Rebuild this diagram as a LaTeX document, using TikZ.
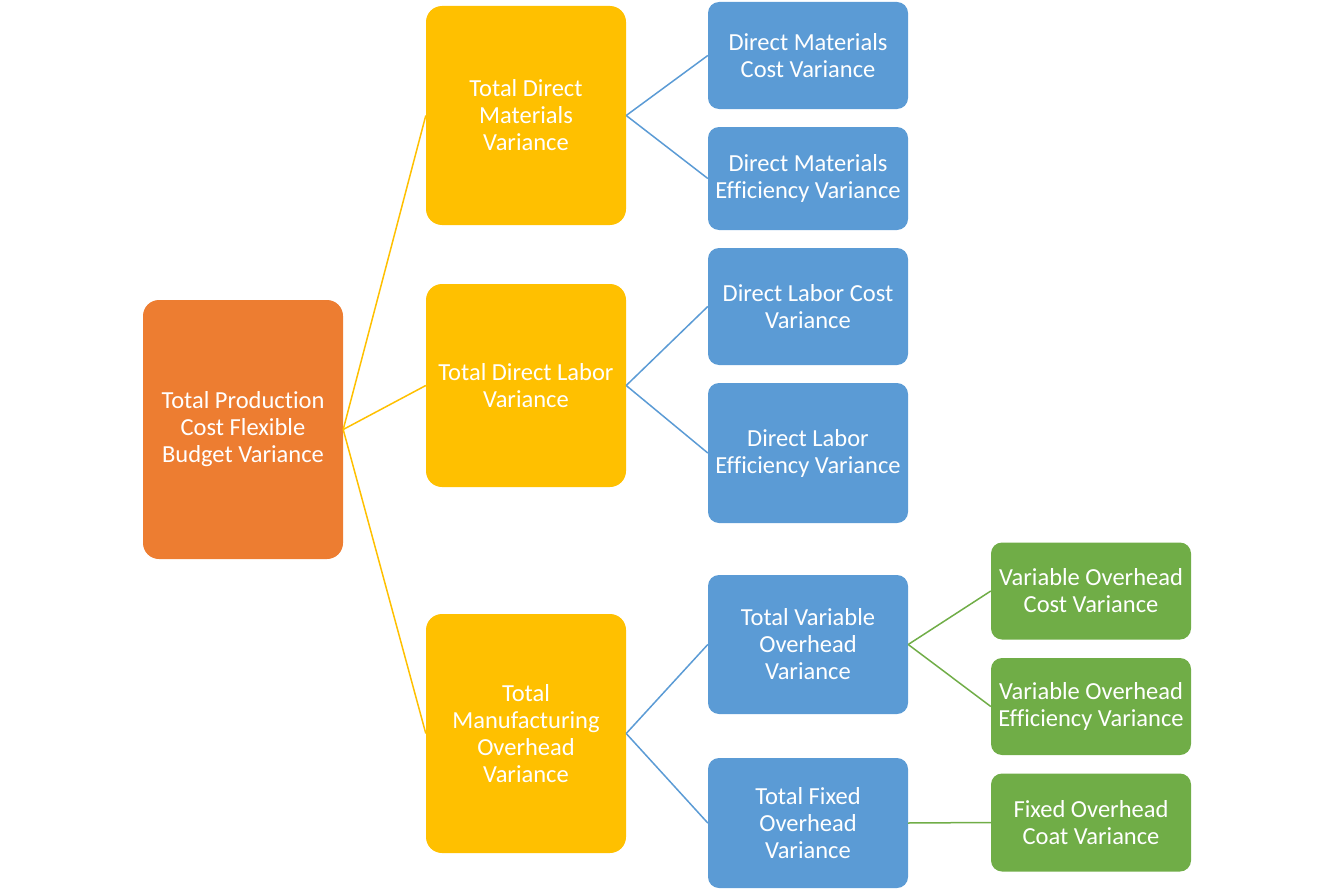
\documentclass[tikz,border=0pt]{standalone}
\usepackage{fontspec}
\setmainfont[Ligatures=NoCommon]{Carlito}
\usetikzlibrary{positioning}
\definecolor{orangebox}{HTML}{ED7D31}
\definecolor{yellowbox}{HTML}{FFC000}
\definecolor{bluebox}{HTML}{5B9BD5}
\definecolor{greenbox}{HTML}{70AD47}
\tikzset{
    box/.style = {
        rectangle,
        text=white,
        align=center,
        inner sep=0pt,
        minimum width=200pt,
        font=\fontsize{24.5}{27}\selectfont
    },
    rootbox/.style = {
        box,
        fill=orangebox,
        rounded corners=16pt
    },
    groupbox/.style = {
        box,
        fill=yellowbox,
        rounded corners=16pt
    },
    varbox/.style = {
        box,
        fill=bluebox,
        rounded corners=11pt
    },
    leafbox/.style = {
        box,
        fill=greenbox,
        rounded corners=11pt
    },
    yline/.style = {draw=yellowbox, line width=1.5pt},
    bline/.style = {draw=bluebox, line width=1.5pt},
    gline/.style = {draw=greenbox, line width=1.5pt}
}

\begin{document}
\begin{tikzpicture}[x=1pt, y=1pt]
            \useasboundingbox (0,0) rectangle (1334,-891);
            % nodes
            \node [rootbox, minimum height=259pt] (total) at (243,-429.5) {Total Production\\Cost Flexible\\Budget Variance};
            
            \node [groupbox, minimum height=219pt] (materials) at (526,-115.5) {Total Direct\\Materials\\Variance};
            \node [groupbox, minimum height=203pt] (labor) at (526,-385.5) {Total Direct Labor\\Variance};
            \node [groupbox, minimum height=239pt] (overhead) at (526,-733.5) {Total\\Manufacturing\\Overhead\\Variance};
            
            \node [varbox, minimum height=107pt] (matcost) at (808,-55.5) {Direct Materials\\Cost Variance};
            \node [varbox, minimum height=103pt, below of=matcost, node distance=123pt] (mateff) {Direct Materials\\Efficiency Variance};
            \node [varbox, minimum height=117pt] (labcost) at (808,-306.5) {Direct Labor Cost\\Variance};
            \node [varbox, minimum height=140pt, below of=labcost, node distance=146.5pt] (labeff) {Direct Labor\\Efficiency Variance};
            \node [varbox, minimum height=139pt] (varoh) at (808,-644.5) {Total Variable\\Overhead\\Variance};
            \node [varbox, minimum height=130pt, below of=varoh, node distance=178.5pt] (fixoh) {Total Fixed\\Overhead\\Variance};
            
            \node [leafbox, minimum height=97pt] (varcost) at (1091,-591) {Variable Overhead\\Cost Variance};
            \node [leafbox, minimum height=97pt, below of=varcost, node distance=115.5pt] (vareff) {Variable Overhead\\Efficiency Variance};
            \node [leafbox, minimum height=98pt] (fixcost) at (1091,-822.5) {Fixed Overhead\\Coat Variance};
        
            % lines
            \draw [yline] (total.east) -- (materials.west);
            \draw [yline] (total.east) -- (labor.west);
            \draw [yline] (total.east) -- (overhead.west);
            \draw [bline] (materials.east) -- (matcost.west);
            \draw [bline] (materials.east) -- (mateff.west);
            \draw [bline] (labor.east) -- (labcost.west);
            \draw [bline] (labor.east) -- (labeff.west);
            \draw [bline] (overhead.east) -- (varoh.west);
            \draw [bline] (overhead.east) -- (fixoh.west);
            \draw [gline] (varoh.east) -- (varcost.west);
            \draw [gline] (varoh.east) -- (vareff.west);
            \draw [gline] (fixoh.east) -- (fixcost.west);
        \end{tikzpicture}
\end{document}
